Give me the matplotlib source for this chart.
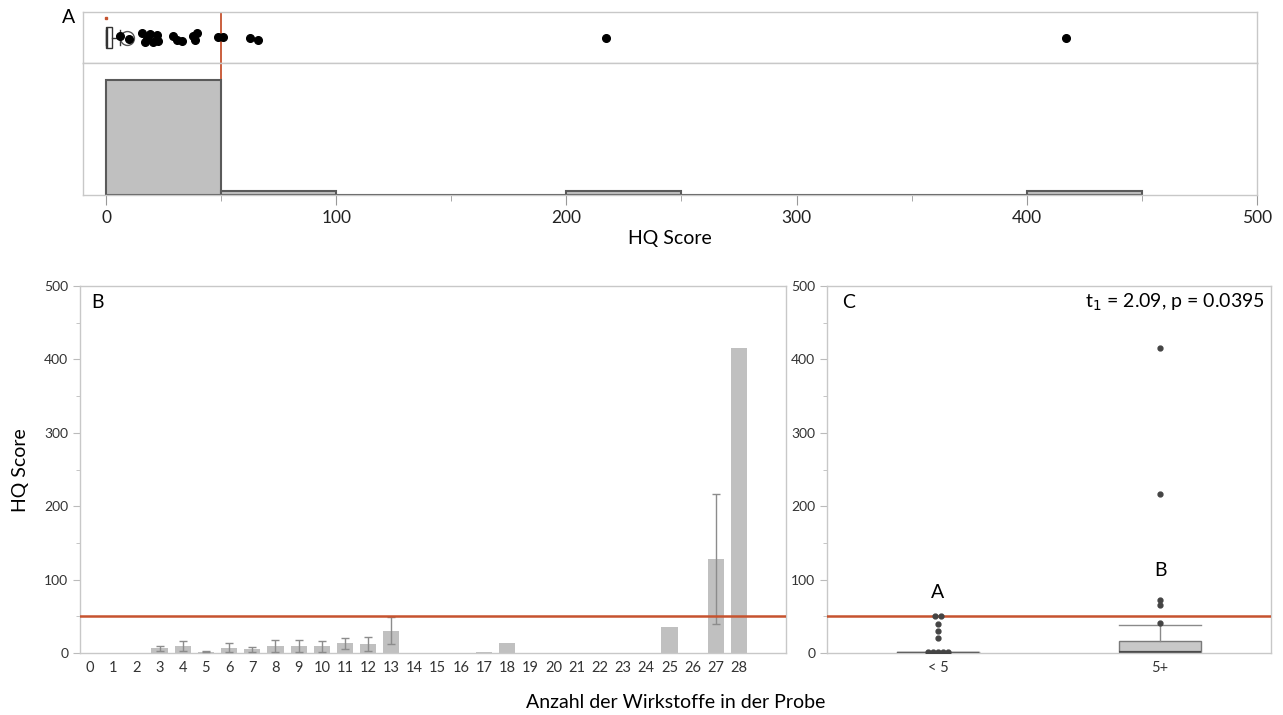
import numpy as np
import matplotlib
matplotlib.use("Agg")
import matplotlib.pyplot as plt
from matplotlib.ticker import MultipleLocator

plt.rcParams["font.family"] = ["Lato", "DejaVu Sans"]

# ---- panel A: distribution of HQ scores ----
hist_edges = [0, 50, 100, 150, 200, 250, 300, 350, 400, 450]
hist_counts = [28, 1, 0, 0, 1, 0, 0, 0, 1]
strip_vals = [6, 10, 15.5, 17, 18, 19, 20.5, 22, 22.7, 29.2, 30.7, 33,
              38, 38.7, 39.4, 48.8, 51, 62.6, 66.2, 217, 417]
strip_jit = [0.52, 0.48, 0.58, 0.42, 0.48, 0.57, 0.42, 0.55, 0.44, 0.53,
             0.46, 0.44, 0.53, 0.45, 0.58, 0.51, 0.51, 0.50, 0.46, 0.50, 0.50]
strip_box = dict(q1=0, med=0.5, q3=2.5, whislo=0, whishi=6, fliers=[])
strip_mean = 9

# ---- panel B: mean HQ score by number of active substances ----
b_ticks = list(range(0, 29))
b_x = [3, 4, 5, 6, 7, 8, 9, 10, 11, 12, 13, 17, 18, 25, 27, 28]
b_mean = [6.3, 9.5, 1.5, 7.3, 5.0, 9.5, 9.5, 9.0, 13.2, 11.8, 30.5,
          2.0, 13.5, 35.5, 128.5, 416]
b_err = [3.2, 6.5, 0.8, 6.3, 3.0, 7.7, 7.7, 7.0, 7.8, 9.6, 18.2,
         np.nan, np.nan, np.nan, 88.5, np.nan]

# ---- panel C: groups < 5 vs 5+ ----
c_labels = ["< 5", "5+"]
c_stats = [
    dict(q1=0, med=0.5, q3=1.5, whislo=0, whishi=1.5, fliers=[]),
    dict(q1=1, med=2, q3=17, whislo=0, whishi=38, fliers=[]),
]
c_out_lo = [1.5, 1.5, 1.5, 1.5, 1.5, 21, 30, 39, 50, 50]
c_out_hi = [41, 65, 72, 217, 416]
c_letters = ["A", "B"]
c_letter_y = [83, 113]

LIMIT = 50
RED = "#c6532f"
SPINE = "#c8c8c8"
BARGRAY = "#c0c0c0"

fig = plt.figure(figsize=(12.83, 7.15), dpi=100)

# strip (box + points) on top of histogram
ax_s = fig.add_axes([0.0647, 0.9119, 0.915, 0.0713])
ax_h = fig.add_axes([0.0647, 0.7273, 0.915, 0.1846], sharex=ax_s)

for ax in (ax_s, ax_h):
    for sp in ax.spines.values():
        sp.set_color(SPINE)
        sp.set_linewidth(1.0)
    ax.axvline(LIMIT, color=RED, lw=1.3, zorder=1)

ax_s.bxp([strip_box], positions=[0.5], widths=0.42, orientation="horizontal",
         showfliers=False, patch_artist=True,
         boxprops=dict(facecolor="white", edgecolor="#333333", lw=1.0),
         medianprops=dict(color="#333333", lw=1.0),
         whiskerprops=dict(color="#333333", lw=1.0),
         capprops=dict(color="#333333", lw=1.0), capwidths=0.3)
ax_s.plot([strip_mean], [0.5], "o", ms=10, mfc="none", mec="#555555", mew=1.0)
ax_s.plot(strip_vals, strip_jit, "o", ms=5.5, color="black", zorder=3)
ax_s.plot([0], [0.88], "s", ms=2, color=RED)
ax_s.set_ylim(0, 1)
ax_s.set_yticks([])
ax_s.tick_params(axis="x", which="both", length=0, labelbottom=False)

ax_h.bar(hist_edges[:-1], hist_counts, width=50, align="edge",
         color=BARGRAY, edgecolor="#5a5a5a", lw=1.5, zorder=2)
ax_h.set_ylim(0, 32.2)
ax_h.set_yticks([])
ax_h.set_xlim(-10, 500)
ax_h.xaxis.set_major_locator(MultipleLocator(100))
ax_h.xaxis.set_minor_locator(MultipleLocator(50))
ax_h.tick_params(axis="x", which="major", length=7, color="#999999",
                 labelsize=12.5, labelcolor="#222222", pad=4)
ax_h.tick_params(axis="x", which="minor", length=4, color="#999999")
ax_h.set_xlabel("HQ Score", fontsize=14, labelpad=3)
fig.text(0.048, 0.976, "A", fontsize=14, va="center", ha="left")

# ---- panel B ----
ax_b = fig.add_axes([0.0624, 0.0867, 0.5503, 0.5133])
ax_b.bar(b_x, b_mean, width=0.7, color=BARGRAY, zorder=2)
ax_b.errorbar(b_x, b_mean, yerr=b_err, fmt="none", ecolor="#8c8c8c",
              elinewidth=1.0, capsize=3, capthick=1.0, zorder=3)
ax_b.axhline(LIMIT, color=RED, lw=1.8, zorder=4)
ax_b.set_xlim(-0.43, 30.03)
ax_b.set_ylim(0, 500)
ax_b.set_xticks(b_ticks)
ax_b.set_xticklabels([str(t) for t in b_ticks])
ax_b.text(0.016, 0.955, "B", transform=ax_b.transAxes, fontsize=14,
          va="center", ha="left")
fig.text(0.016, 0.343, "HQ Score", fontsize=14, rotation=90,
         ha="center", va="center")

# ---- panel C ----
ax_c = fig.add_axes([0.6446, 0.0867, 0.3461, 0.5133])
ax_c.bxp(c_stats, positions=[0, 1], widths=0.37, showfliers=False,
         patch_artist=True,
         boxprops=dict(facecolor="#c8c8c8", edgecolor="#7a7a7a", lw=1.0),
         medianprops=dict(color="#4a4a4a", lw=1.6),
         whiskerprops=dict(color="#8a8a8a", lw=1.0),
         capprops=dict(color="#8a8a8a", lw=1.0), capwidths=0.37)
# overlapping outliers spread sideways like the original
lo_x = [-0.045, -0.022, 0.0, 0.022, 0.045, 0.0, 0.0, 0.0, -0.012, 0.012]
ax_c.plot(lo_x, c_out_lo, "o", ms=3.5, color="#444444", zorder=4)
ax_c.plot([1] * len(c_out_hi), c_out_hi, "o", ms=3.5, color="#444444",
          zorder=4)
ax_c.axhline(LIMIT, color=RED, lw=1.8, zorder=3)
for i, (lt, ly) in enumerate(zip(c_letters, c_letter_y)):
    ax_c.text(i, ly, lt, fontsize=14, ha="center", va="center")
ax_c.set_xlim(-0.5, 1.5)
ax_c.set_ylim(0, 500)
ax_c.set_xticks([0, 1])
ax_c.set_xticklabels(c_labels)
ax_c.text(0.035, 0.955, "C", transform=ax_c.transAxes, fontsize=14,
          va="center", ha="left")
ax_c.text(0.985, 0.955, "t$_1$ = 2.09, p = 0.0395",
          transform=ax_c.transAxes, fontsize=14, va="center", ha="right")

for ax in (ax_b, ax_c):
    for sp in ax.spines.values():
        sp.set_color(SPINE)
        sp.set_linewidth(1.0)
    ax.yaxis.set_major_locator(MultipleLocator(100))
    ax.yaxis.set_minor_locator(MultipleLocator(50))
    ax.tick_params(axis="y", which="major", length=5, color="#bbbbbb",
                   labelsize=10, labelcolor="#333333")
    ax.tick_params(axis="y", which="minor", length=3, color="#bbbbbb")
    ax.tick_params(axis="x", length=0, labelsize=10.5, labelcolor="#333333",
                   pad=6)

fig.text(0.527, 0.017, "Anzahl der Wirkstoffe in der Probe", fontsize=14,
         ha="center", va="center")

fig.savefig("out.png", dpi=100)
